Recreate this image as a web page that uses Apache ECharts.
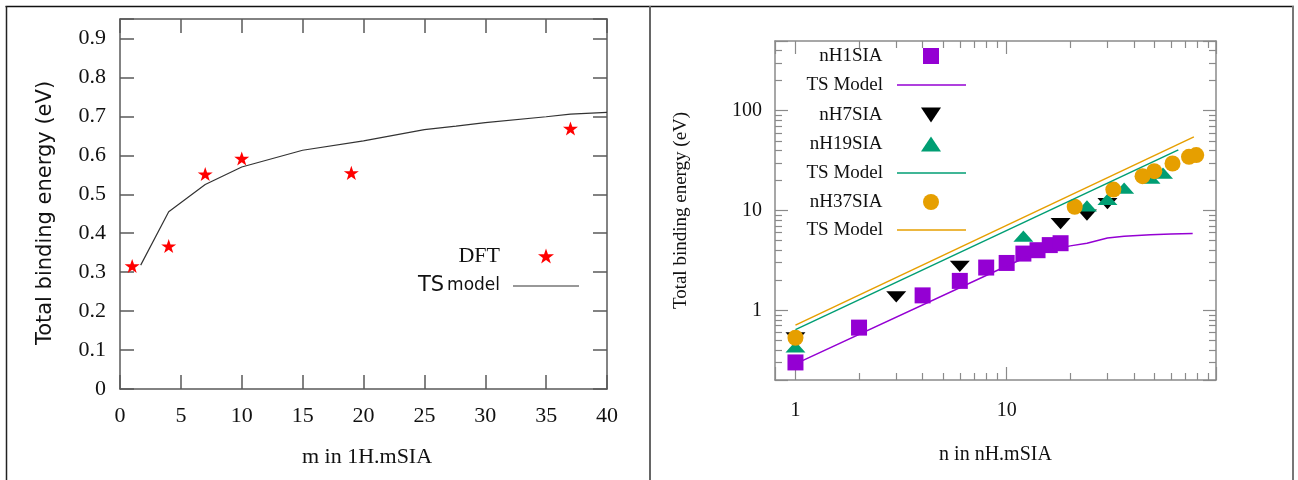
<!DOCTYPE html>
<html><head><meta charset="utf-8">
<script src="https://cdn.jsdelivr.net/npm/echarts@6/dist/echarts.min.js"></script>
<style>html,body{margin:0;padding:0;background:#fff}#c{width:1298px;height:480px}</style>
</head><body><div id="c"></div>
<script>
// ---------- Left panel data (1H.mSIA) ----------
const dftM = [1, 4, 7, 10, 19, 37];
const dftE = [0.316, 0.367, 0.552, 0.592, 0.555, 0.669];
const tsM  = [1.7, 4, 7, 10, 15, 20, 25, 27.6, 30, 35, 37, 40];
const tsE  = [0.318, 0.455, 0.525, 0.570, 0.613, 0.637, 0.666, 0.675, 0.684, 0.699, 0.706, 0.710];
const leftXRange = [0, 40];
const leftYRange = [0, 0.95];
const leftXStep = 5;
const leftYStep = 0.1;

// ---------- Right panel data (nH.mSIA) ----------
const h1N  = [1, 2, 4, 6, 8, 10, 12, 14, 16, 18];
const h1E  = [0.30, 0.67, 1.41, 1.97, 2.68, 2.98, 3.7, 4.0, 4.5, 4.7];
const ts1N = [1, 10, 12, 14, 16, 18, 20, 24, 30, 36, 48, 60, 76];
const ts1E = [0.29, 2.78, 3.3, 3.7, 4.0, 4.2, 4.42, 4.7, 5.3, 5.52, 5.7, 5.8, 5.88];
const h7N  = [1, 3, 6, 18, 24, 30];
const h7E  = [0.53, 1.36, 2.76, 7.4, 9.0, 11.7];
const h19N = [1, 12, 24, 30, 36, 48, 55];
const h19E = [0.43, 5.55, 11.1, 12.9, 16.8, 21.1, 23.7];
const ts19N = [1, 65];
const ts19E = [0.64, 40.5];
const h37N = [1, 21, 32, 44, 50, 61, 73, 79];
const h37E = [0.53, 10.9, 16.2, 22.1, 24.8, 29.6, 34.5, 35.9];
const ts37N = [1, 77];
const ts37E = [0.71, 54.7];
const rightXRange = [0.8, 98];
const rightYRange = [0.2, 500];
const rightXMinor = [2, 3, 4, 5, 6, 7, 8, 9, 20, 30, 40, 50, 60, 70, 80, 90];
const rightYMinor = [0.3, 0.4, 0.5, 0.6, 0.7, 0.8, 0.9, 2, 3, 4, 5, 6, 7, 8, 9, 20, 30, 40, 50, 60, 70, 80, 90, 200, 300, 400];

// ---------- styling ----------
const SERIF = 'Liberation Serif';
const SANS = 'DejaVu Sans';
const TXT = '#111';
const LAX = '#5a5a5a';
const RAX = '#8a8a8a';
const PURPLE = '#9400d3', GREEN = '#009e73', ORANGE = '#e69f00', BLACK = '#000000', RED = '#ff0000';
const STAR = 'path://M50,0L61.8,35.1L98.5,35.1L68.8,57L79.4,91L50,70L20.6,91L31.2,57L1.5,35.1L38.2,35.1Z';
const TRI_DOWN = 'path://M0,0L4,0L2,3Z';
const TRI_UP = 'path://M2,0L4,3L0,3Z';
const SQUARE = 'path://M0,0L1,0L1,1L0,1Z';

const pairs = (xs, ys) => xs.map((x, i) => [x, ys[i]]);
const isPow10 = v => v > 0 && Math.abs(Math.log10(v) - Math.round(Math.log10(v))) < 1e-9;
const L10 = v => Math.log10(v);

function leftAxis(pos, range, step, showLabel, fmt) {
  return {
    gridIndex: 0, type: 'value', position: pos, min: range[0], max: range[1], interval: step,
    axisLine: { onZero: false, lineStyle: { color: LAX, width: 1.5 } },
    axisTick: { inside: true, length: 14, lineStyle: { color: LAX, width: 1.5 } },
    axisLabel: { show: showLabel, color: TXT, fontFamily: SERIF, fontSize: 22, formatter: fmt },
    splitLine: { show: false }
  };
}
function rightLogAxis(pos, range, showLabel) {
  return {
    gridIndex: 1, type: 'log', logBase: 10, position: pos, min: range[0], max: range[1],
    axisLine: { onZero: false, lineStyle: { color: RAX, width: 1.5 } },
    axisTick: { inside: true, length: 13, lineStyle: { color: RAX, width: 1.2 } },
    axisLabel: { show: showLabel, color: TXT, fontFamily: SERIF, fontSize: 20,
      formatter: v => isPow10(v) ? String(Math.round(v)) : '' },
    splitLine: { show: false }, minorTick: { show: false }
  };
}
function rightMinorAxis(pos, range, minors) {
  return {
    gridIndex: 1, type: 'value', position: pos, min: L10(range[0]), max: L10(range[1]),
    axisLine: { show: false, onZero: false },
    axisTick: { inside: true, length: 7, customValues: minors.map(L10), lineStyle: { color: RAX, width: 1.2 } },
    axisLabel: { show: false },
    splitLine: { show: false }
  };
}

const xAxis = [
  Object.assign(leftAxis('bottom', leftXRange, leftXStep, true), {
    name: 'm in 1H.mSIA', nameLocation: 'middle', nameGap: 57,
    nameTextStyle: { color: TXT, fontFamily: SERIF, fontSize: 22, padding: [0, 0, 0, 7] },
    axisLabel: { color: TXT, fontFamily: SERIF, fontSize: 22, margin: 16 }
  }),
  leftAxis('top', leftXRange, leftXStep, false),
  Object.assign(rightLogAxis('bottom', rightXRange, true), {
    name: 'n in nH.mSIA', nameLocation: 'middle', nameGap: 65,
    nameTextStyle: { color: TXT, fontFamily: SERIF, fontSize: 20 }
  }),
  rightLogAxis('top', rightXRange, false),
  rightMinorAxis('bottom', rightXRange, rightXMinor),
  rightMinorAxis('top', rightXRange, rightXMinor)
];
xAxis[2].axisLabel.margin = 21;

const yAxis = [
  Object.assign(leftAxis('left', leftYRange, leftYStep, true,
      v => (Math.abs(v * 10 - Math.round(v * 10)) < 1e-6) ? String(Math.round(v * 10) / 10) : ''), {
    name: 'Total binding energy (eV)', nameLocation: 'middle', nameGap: 64, nameRotate: 90,
    nameTextStyle: { color: TXT, fontFamily: SANS, fontSize: 21, padding: [0, 18, 0, 0] }
  }),
  leftAxis('right', leftYRange, leftYStep, false),
  Object.assign(rightLogAxis('left', rightYRange, true), {
    name: 'Total binding energy (eV)', nameLocation: 'middle', nameGap: 84, nameRotate: 90,
    nameTextStyle: { color: TXT, fontFamily: SERIF, fontSize: 19 }
  }),
  rightLogAxis('right', rightYRange, false),
  rightMinorAxis('left', rightYRange, rightYMinor),
  rightMinorAxis('right', rightYRange, rightYMinor)
];
yAxis[0].axisLabel.margin = 14;
yAxis[2].axisLabel.margin = 13;

function legendItem(name, top, right, itemWidth, itemHeight, textStyle, extra) {
  return Object.assign({
    data: [name], orient: 'vertical', align: 'right', right: right, top: top,
    itemWidth: itemWidth, itemHeight: itemHeight, padding: 0, selectedMode: false,
    symbolKeepAspect: true, textStyle: textStyle
  }, extra || {});
}
const rTxt = { color: TXT, fontFamily: SERIF, fontSize: 19, lineHeight: 20, padding: [0, 9, 0, 0] };
const rLineLegend = { symbolKeepAspect: false, formatter: () => 'TS Model' };
const RL = 332, RW = 69;

const legend = [
  legendItem('DFT', 245, 744, 66, 15,
    { color: TXT, fontFamily: SERIF, fontSize: 22, lineHeight: 22, padding: [0, 8, 0, 0] }),
  legendItem({ name: 'TS model', icon: 'rect' }, 275, 719, 66, 1.2,
    { color: TXT, lineHeight: 22, padding: [0, 8, 0, 0],
      rich: { a: { fontFamily: SANS, fontSize: 21, lineHeight: 22, color: TXT },
              b: { fontFamily: SANS, fontSize: 17, lineHeight: 22, color: TXT } } },
    { symbolKeepAspect: false, formatter: () => '{a|TS} {b|model}' }),
  legendItem('nH1SIA', 46, 359, RW, 16, rTxt),
  legendItem({ name: 'TS Model nH1', icon: 'rect' }, 75, RL, RW, 1.5, rTxt, rLineLegend),
  legendItem('nH7SIA', 105, 357, RW, 15, rTxt),
  legendItem('nH19SIA', 134, 357, RW, 15, rTxt),
  legendItem({ name: 'TS Model nH19', icon: 'rect' }, 163, RL, RW, 1.5, rTxt, rLineLegend),
  legendItem('nH37SIA', 192, 359, RW, 16, rTxt),
  legendItem({ name: 'TS Model nH37', icon: 'rect' }, 220, RL, RW, 1.5, rTxt, rLineLegend)
];

const solid = c => ({ color: c, opacity: 1 });
const series = [
  { name: 'TS model', type: 'line', xAxisIndex: 0, yAxisIndex: 0, data: pairs(tsM, tsE),
    symbol: 'none', color: '#333', lineStyle: { color: '#333', width: 1.2 } },
  { name: 'DFT', type: 'scatter', xAxisIndex: 0, yAxisIndex: 0, data: pairs(dftM, dftE),
    symbol: STAR, symbolSize: 15, symbolKeepAspect: true, itemStyle: solid(RED) },

  { name: 'nH1SIA', type: 'scatter', xAxisIndex: 2, yAxisIndex: 2, data: pairs(h1N, h1E),
    symbol: SQUARE, symbolSize: 16, symbolKeepAspect: true, itemStyle: solid(PURPLE) },
  { name: 'TS Model nH1', type: 'line', xAxisIndex: 2, yAxisIndex: 2, data: pairs(ts1N, ts1E),
    symbol: 'none', color: PURPLE, lineStyle: { color: PURPLE, width: 1.5 } },
  { name: 'nH7SIA', type: 'scatter', xAxisIndex: 2, yAxisIndex: 2, data: pairs(h7N, h7E),
    symbol: TRI_DOWN, symbolSize: [20, 15], symbolKeepAspect: true, itemStyle: solid(BLACK) },
  { name: 'nH19SIA', type: 'scatter', xAxisIndex: 2, yAxisIndex: 2, data: pairs(h19N, h19E),
    symbol: TRI_UP, symbolSize: [20, 15], symbolKeepAspect: true, itemStyle: solid(GREEN) },
  { name: 'TS Model nH19', type: 'line', xAxisIndex: 2, yAxisIndex: 2, data: pairs(ts19N, ts19E),
    symbol: 'none', color: GREEN, lineStyle: { color: GREEN, width: 1.5 } },
  { name: 'nH37SIA', type: 'scatter', xAxisIndex: 2, yAxisIndex: 2, data: pairs(h37N, h37E),
    symbol: 'circle', symbolSize: 16, itemStyle: solid(ORANGE) },
  { name: 'TS Model nH37', type: 'line', xAxisIndex: 2, yAxisIndex: 2, data: pairs(ts37N, ts37E),
    symbol: 'none', color: ORANGE, lineStyle: { color: ORANGE, width: 1.5 } }
];

const option = {
  animation: false,
  backgroundColor: '#ffffff',
  textStyle: { fontFamily: SERIF },
  grid: [
    { left: 120, top: 19, width: 487, height: 370 },
    { left: 775, top: 41, width: 441, height: 339 }
  ],
  xAxis: xAxis,
  yAxis: yAxis,
  legend: legend,
  series: series,
  graphic: [
    { type: 'line', shape: { x1: 5.5, y1: 6.5, x2: 1294, y2: 6.5 }, style: { stroke: '#111', lineWidth: 1.5 } },
    { type: 'line', shape: { x1: 6.5, y1: 6, x2: 6.5, y2: 480 }, style: { stroke: '#222', lineWidth: 1.5 } },
    { type: 'line', shape: { x1: 650, y1: 6, x2: 650, y2: 480 }, style: { stroke: '#666', lineWidth: 2 } },
    { type: 'line', shape: { x1: 1293, y1: 6, x2: 1293, y2: 480 }, style: { stroke: '#777', lineWidth: 2 } }
  ]
};

const chart = echarts.init(document.getElementById('c'));
chart.setOption(option);
</script>
</body></html>
